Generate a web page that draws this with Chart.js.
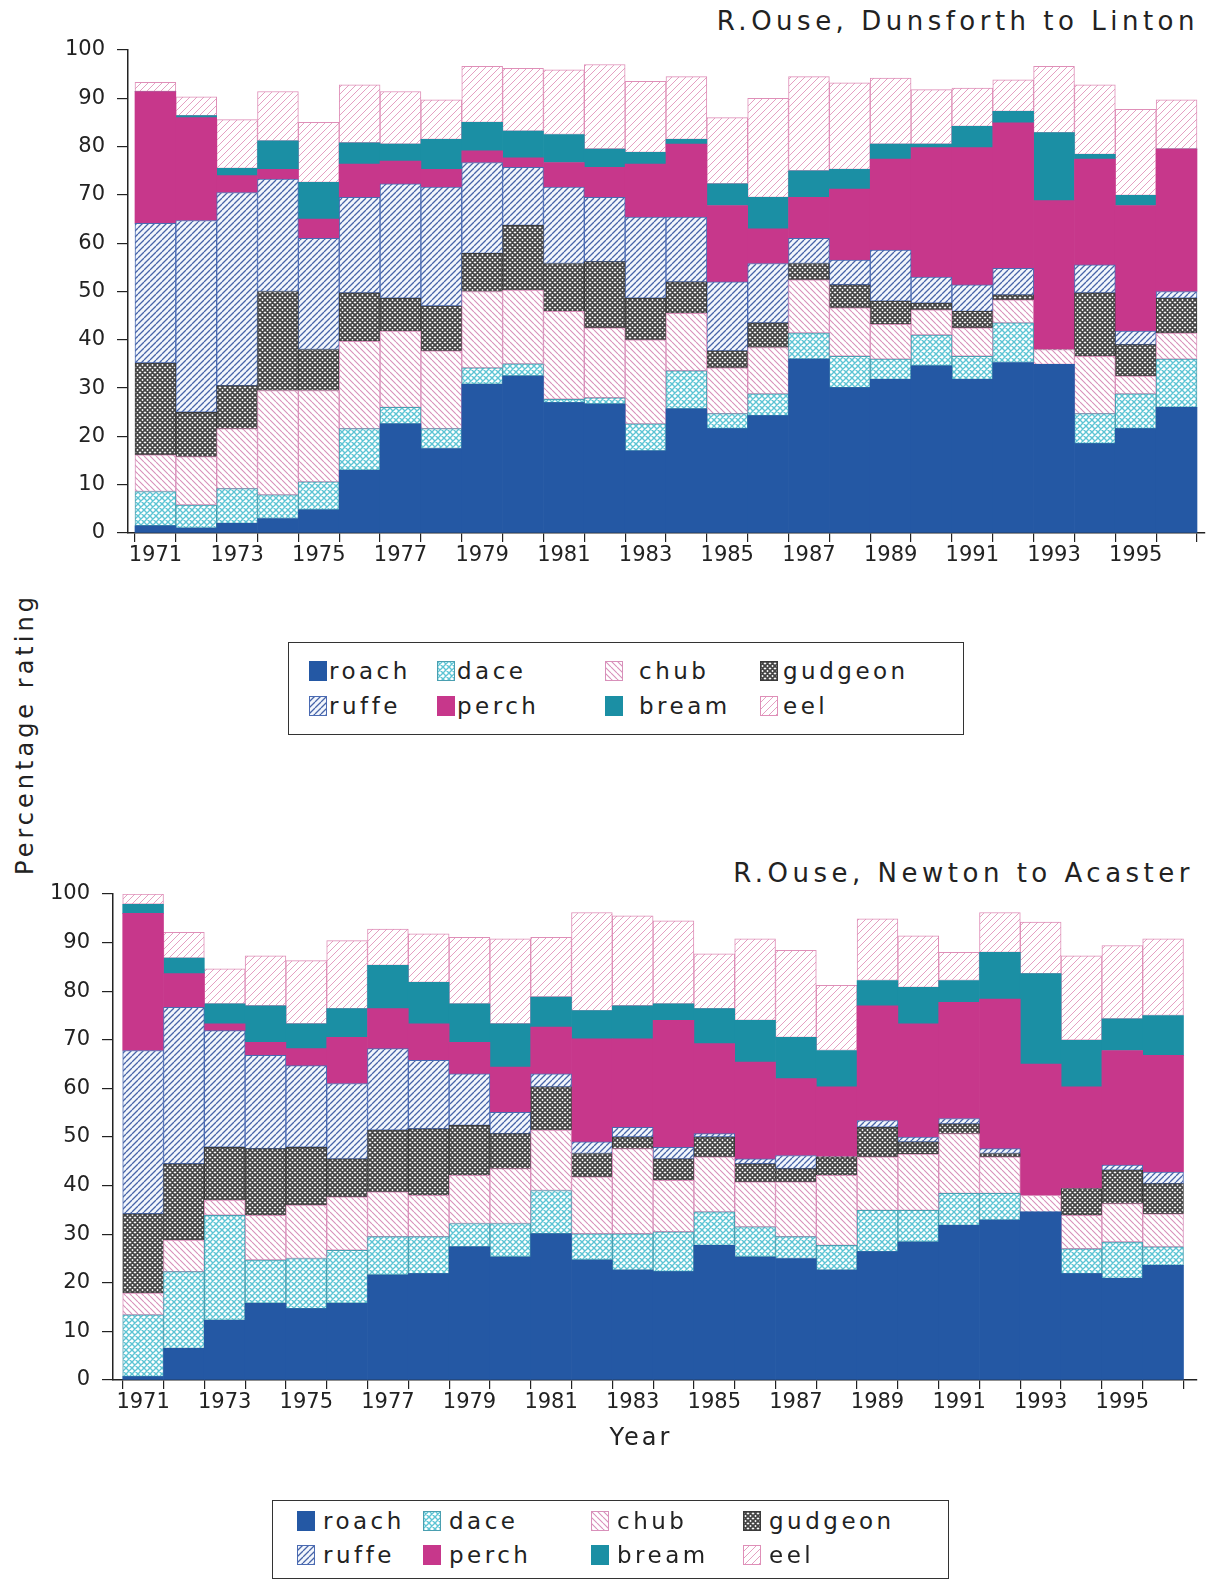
<!DOCTYPE html>
<html><head><meta charset="utf-8">
<script src="https://cdn.jsdelivr.net/npm/chart.js@4.4.1/dist/chart.umd.min.js"></script>
<style>
body{margin:0;background:#fff;font-family:"DejaVu Sans",sans-serif;color:#222}
#page{position:relative;width:1215px;height:1582px;overflow:hidden;background:#fff}
canvas.chart{position:absolute;left:0}
.title{position:absolute;font-size:26px;letter-spacing:4.5px;line-height:34px;white-space:nowrap}
.ylab{position:absolute;left:25px;top:734px;font-size:24px;letter-spacing:4px;white-space:nowrap;transform:translate(-50%,-50%) rotate(-90deg)}
.xlab{position:absolute;left:641px;top:1437px;font-size:24px;letter-spacing:3px;transform:translate(-50%,-50%)}
.legend{position:absolute;border:1.5px solid #333;box-sizing:border-box}
.legend canvas{position:absolute}
.legend span{position:absolute;font-size:23px;letter-spacing:3.5px;line-height:28px;transform:translateY(-50%);white-space:nowrap}
</style></head>
<body><div id="page">
<div class="title" style="right:16px;top:4px">R.Ouse, Dunsforth to Linton</div>
<canvas id="c1" class="chart" width="1215" height="580" style="top:0"></canvas>
<div class="legend" id="lg1" style="left:288px;top:642px;width:676px;height:93px"></div>
<div class="ylab">Percentage rating</div>
<div class="title" style="right:21px;top:856px">R.Ouse, Newton to Acaster</div>
<canvas id="c2" class="chart" width="1215" height="600" style="top:840px"></canvas>
<div class="xlab">Year</div>
<div class="legend" id="lg2" style="left:272px;top:1500px;width:677px;height:79px"></div>
</div>
<script>
// ---- data ----
const years = [1971,1972,1973,1974,1975,1976,1977,1978,1979,1980,1981,1982,1983,1984,1985,1986,1987,1988,1989,1990,1991,1992,1993,1994,1995,1996];
const tickYears = [1971,1973,1975,1977,1979,1981,1983,1985,1987,1989,1991,1993,1995];
const seriesNames = ['roach','dace','chub','gudgeon','ruffe','perch','bream','eel'];

// R.Ouse, Dunsforth to Linton (segment heights, %)
const topRoach   = [1.5,1,2,3,4.8,13,22.6,17.5,30.8,32.5,27,26.7,17,25.7,21.6,24.3,36,30.1,31.8,34.6,31.8,35.3,34.9,18.5,21.6,26];
const topDace    = [7.1,4.8,7.2,4.9,5.8,8.6,3.4,4.1,3.4,2.5,0.7,1.3,5.6,7.9,3.1,4.5,5.4,6.5,4.2,6.4,4.8,8.2,0,6.2,7.2,10];
const topChub    = [7.6,10,12.4,21.6,18.9,18.1,15.8,16.1,15.8,15.3,18.2,14.5,17.4,11.9,9.5,9.6,11,10,7.2,5.2,5.9,4.8,3.1,11.9,3.7,5.4];
const topGudgeon = [19,9.2,8.9,20.5,8.5,10,6.8,9.3,7.9,13.4,9.9,13.7,8.6,6.5,3.5,5.1,3.4,4.8,4.8,1.4,3.4,1,0,13.1,6.5,7.2];
const topRuffe   = [28.9,39.7,40,23.3,23,19.8,23.7,24.6,18.8,12,15.8,13.3,16.8,13.4,14.3,12.3,5.2,5.1,10.6,5.4,5.5,5.5,0,5.8,2.8,1.4];
const topPerch   = [27.3,21.3,3.5,2,4,6.9,4.7,3.7,2.4,2,5.1,6.2,11,15.1,15.8,7.2,8.5,14.7,18.8,26.8,28.4,30.1,30.8,21.9,26,29.5];
const topBream   = [0,0.4,1.5,5.9,7.6,4.4,3.5,6.2,5.9,5.5,5.8,3.8,2.4,1,4.5,6.5,5.5,4.1,3.1,0.7,4.4,2.4,14.1,1,2.1,0];
const topEel     = [1.9,3.9,10.1,10.2,12.4,12,10.9,8.2,11.6,13,13.4,17.5,14.7,13,13.7,20.5,19.5,17.9,13.7,11.3,7.9,6.5,13.7,14.4,17.8,10.2];

// R.Ouse, Newton to Acaster (segment heights, %)
const botRoach   = [0.7,6.5,12.3,15.8,14.7,15.8,21.6,21.9,27.4,25.3,30.1,24.7,22.6,22.3,27.7,25.3,25,22.6,26.4,28.4,31.8,32.9,34.6,21.9,20.9,23.6];
const botDace    = [12.7,15.8,21.6,8.9,10.3,10.9,7.9,7.6,4.8,6.9,8.9,5.4,7.5,8.2,6.9,6.2,4.5,5.1,8.5,6.5,6.6,5.5,0,5.1,7.5,3.8];
const botChub    = [4.5,6.5,3.1,9.2,11,11,9.2,8.5,9.9,11.3,12.4,11.7,17.5,10.6,11.3,9.3,11.3,14.4,11,11.6,12.3,7.5,3.4,6.9,7.9,6.8];
const botGudgeon = [16.3,15.7,10.9,13.7,11.9,7.8,12.7,13.7,10.3,7.2,8.9,4.8,2.4,4.4,4.1,3.7,2.7,3.8,6.1,2.5,2,0.7,0,5.5,6.9,6.2];
const botRuffe   = [33.6,32.2,24,19.2,16.8,15.5,16.8,14.1,10.6,4.4,2.7,2.4,2,2.4,0.7,1,2.7,0,1.4,1,1.1,1,0,0,1,2.4];
const botPerch   = [28.2,6.9,1.4,2.7,3.5,9.5,8.2,7.5,6.5,9.3,9.6,21.2,18.2,26.1,18.5,19.9,15.8,14.4,23.6,23.3,23.9,30.8,27,20.9,23.6,24];
const botBream   = [1.9,3.2,4.1,7.5,5.1,5.9,8.9,8.5,7.9,8.9,6.2,5.8,6.8,3.4,7.2,8.6,8.5,7.5,5.2,7.5,4.5,9.6,18.6,9.6,6.5,8.2];
const botEel     = [2.1,5.3,7.2,10.3,13,14,7.5,10,13.7,17.5,12.3,20.2,18.5,17.1,11.3,16.8,17.9,13.4,12.7,10.6,5.8,8.2,10.6,17.4,15.1,15.8];

// ---- styles ----
function hatch(bg, color, lw, s, dirs) {
  const c = document.createElement('canvas'); c.width = s; c.height = s;
  const g = c.getContext('2d');
  g.fillStyle = bg; g.fillRect(0, 0, s, s);
  g.strokeStyle = color; g.lineWidth = lw;
  g.beginPath();
  for (const d of dirs) {
    for (let k = -1; k <= 1; k++) {
      if (d === '/') { g.moveTo(k*s, s); g.lineTo(k*s + s, 0); }
      else { g.moveTo(k*s, 0); g.lineTo(k*s + s, s); }
    }
  }
  g.stroke();
  return g.createPattern(c, 'repeat');
}
const styles = {
  roach:   {fill:'#2458a4', border:'#2458a4', bw:0},
  dace:    {fill:hatch('#ffffff','#5cc4d4',1.4,6,['/','\\']), border:'#4a9fb0', bw:1},
  chub:    {fill:hatch('#ffffff','#d890ba',1.1,6,['\\']), border:'#d890ba', bw:1},
  gudgeon: {fill:hatch('#ffffff','#454545',1.9,5,['/','\\']), border:'#3a3a3a', bw:1},
  ruffe:   {fill:hatch('#f2f6fc','#4764a8',1.3,6,['/']), border:'#4a6ab2', bw:1},
  perch:   {fill:'#c7378b', border:'#c7378b', bw:0},
  bream:   {fill:'#1b8fa4', border:'#1b8fa4', bw:0},
  eel:     {fill:hatch('#ffffff','#e4a0c2',1,7,['/']), border:'#df8fb8', bw:1}
};

const FONT = '"DejaVu Sans", sans-serif';

function makeChart(id, seriesData, cfg) {
  const datasets = seriesNames.map((n, i) => ({
    label: n,
    data: seriesData[i],
    backgroundColor: styles[n].fill,
    borderColor: styles[n].border,
    borderWidth: ctx => (ctx.raw > 0 ? styles[n].bw : 0),
    borderSkipped: false,
    barPercentage: 1,
    categoryPercentage: 1
  }));
  return new Chart(document.getElementById(id), {
    type: 'bar',
    data: { labels: years, datasets },
    options: {
      responsive: false,
      animation: false,
      events: [],
      layout: { padding: { top: cfg.pTop, right: cfg.pRight, left: 0, bottom: 0 } },
      plugins: { legend: { display: false }, tooltip: { enabled: false }, title: { display: false } },
      scales: {
        x: {
          type: 'linear', stacked: true, min: cfg.xMin, max: cfg.xMax, offset: false,
          afterBuildTicks: s => { s.ticks = years.map(v => ({ value: v })); },
          afterFit: s => { s.height = cfg.xH; },
          ticks: { autoSkip: false, maxRotation: 0, minRotation: 0, padding: 1,
                   font: { family: FONT, size: 21 }, color: '#222',
                   callback: v => (tickYears.includes(v) ? String(v) : '') },
          grid: { drawOnChartArea: false, drawTicks: true, tickLength: 9, color: '#222', lineWidth: 1.2 },
          border: { display: true, color: '#222', width: 1.5 }
        },
        y: {
          type: 'linear', stacked: true, min: 0, max: 100,
          afterFit: s => { s.width = cfg.yW; },
          ticks: { stepSize: 10, padding: 12, font: { family: FONT, size: 21 }, color: '#222' },
          grid: { drawOnChartArea: false, drawTicks: true, tickLength: 11, color: '#222', lineWidth: 1.2 },
          border: { display: true, color: '#222', width: 1.5 }
        }
      }
    }
  });
}

makeChart('c1', [topRoach, topDace, topChub, topGudgeon, topRuffe, topPerch, topBream, topEel],
  { pTop: 50, pRight: 10, xH: 47, yW: 128, xMin: 1970.329, xMax: 1996.696 });
makeChart('c2', [botRoach, botDace, botChub, botGudgeon, botRuffe, botPerch, botBream, botEel],
  { pTop: 54, pRight: 18, xH: 60, yW: 113, xMin: 1970.262, xMax: 1996.831 });

// ---- legends ----
function buildLegend(elId, rows, swX, txX) {
  const el = document.getElementById(elId);
  seriesNames.forEach((n, i) => {
    const col = i % 4, row = Math.floor(i / 4);
    const cy = rows[row];
    const c = document.createElement('canvas'); c.width = 18; c.height = 20;
    c.style.left = swX[col] + 'px'; c.style.top = (cy - 10) + 'px';
    const g = c.getContext('2d');
    g.fillStyle = styles[n].fill; g.fillRect(0, 0, 18, 20);
    g.strokeStyle = styles[n].border; g.lineWidth = 1; g.strokeRect(0.5, 0.5, 17, 19);
    el.appendChild(c);
    const t = document.createElement('span');
    t.textContent = n; t.style.left = txX[col] + 'px'; t.style.top = cy + 'px';
    el.appendChild(t);
  });
}
buildLegend('lg1', [28, 63], [20, 148, 316, 471], [40, 168, 350, 494]);
buildLegend('lg2', [20, 54], [24, 150, 318, 470], [50, 176, 344, 496]);
</script>
</body></html>
